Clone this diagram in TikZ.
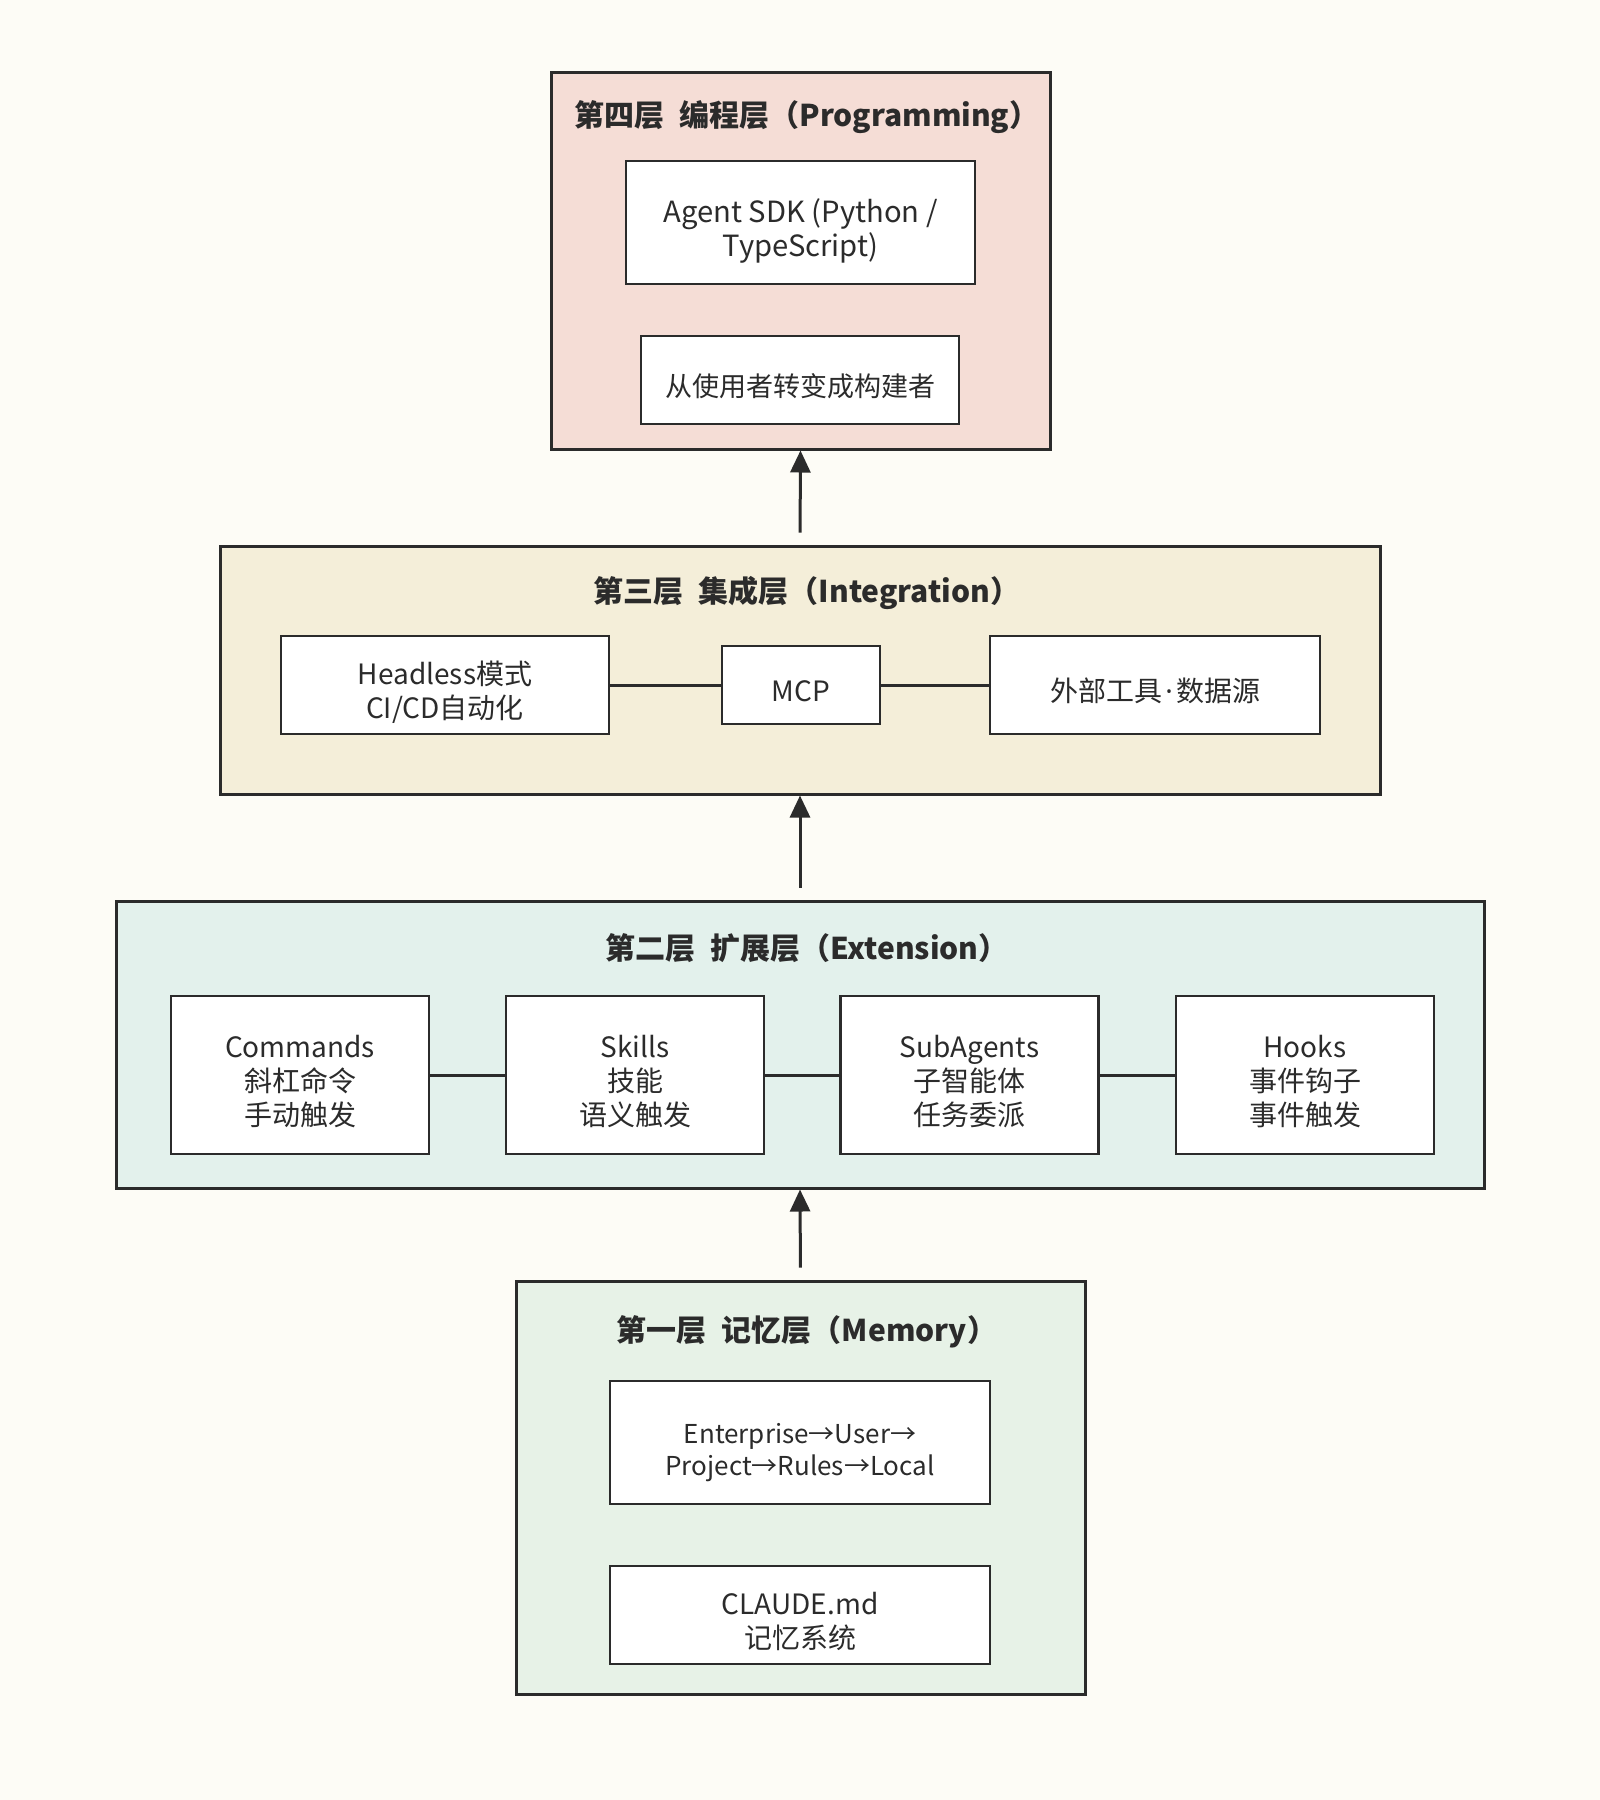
\documentclass[tikz,border=0pt]{standalone}
\usepackage{fontspec}
\setmainfont{Noto Sans CJK SC}
\newfontfamily\dotfont{Noto Sans}
\usepackage{tikz}
\usetikzlibrary{arrows.meta}

\definecolor{paper}{HTML}{FDFCF6}
\definecolor{ink}{HTML}{2B2B2B}
\definecolor{progfill}{HTML}{F5DDD6}
\definecolor{integfill}{HTML}{F4EED9}
\definecolor{extfill}{HTML}{E3F1EC}
\definecolor{memfill}{HTML}{E7F2E7}

% box text, set a little below the middle of its box
\newcommand{\boxlines}[1]{\begin{tabular}{@{}c@{}}\rule{0pt}{22pt}#1\end{tabular}}

\begin{document}
\begin{tikzpicture}
    [x = .5pt, y = -.5pt,
     layer/.style = {draw = ink, line width = 1.5pt, inner sep = 0pt},
     title/.style = {font = \fontsize{15pt}{18pt}\selectfont\bfseries, text = ink},
     item/.style = {draw = ink, line width = 1.4pt, fill = white,
                    inner sep = 0pt, text = ink,
                    font = \fontsize{14pt}{17pt}\selectfont},
     link/.style = {draw = ink, line width = 1.5pt},
     uparrow/.style = {draw = ink, line width = 1.5pt,
                       -{Triangle[length = 11pt, width = 10pt]}, shorten <= 6pt}]
    \fill[paper] (0,0) rectangle (1600,1800);
    \useasboundingbox (0,0) rectangle (1600,1800);

    % layer 4
    \node[layer, fill = progfill, minimum width = 249.5pt, minimum height = 188.5pt] (l4) at (800.5,260.5) {};
    \node[title] (t4) at (807,117) {第四层\hspace{.5em}编程层（Programming）};
    \node[item, font = \fontsize{14.6pt}{17pt}\selectfont, minimum width = 174.5pt, minimum height = 61.5pt] (sdk) at (800.5,222.5) {\boxlines{Agent SDK (Python /\\TypeScript)}};
    \node[item, font = \fontsize{13.5pt}{17pt}\selectfont, minimum width = 159pt, minimum height = 44pt] (builder) at (800,380) {\boxlines{从使用者转变成构建者}};

    % layer 3
    \node[layer, fill = integfill, minimum width = 580pt, minimum height = 124pt] (l3) at (800,670) {};
    \node[title] (t3) at (807,593) {第三层\hspace{.5em}集成层（Integration）};
    \node[item, minimum width = 164pt, minimum height = 49pt] (headless) at (445,685) {\boxlines{Headless模式\\CI/CD自动化}};
    \node[item, minimum width = 79pt, minimum height = 39pt] (mcp) at (801,685) {\boxlines{MCP}};
    \node[item, minimum width = 165pt, minimum height = 49pt] (tools) at (1155,685) {\boxlines{外部工具\makebox[.5em]{\dotfont ·}数据源}};

    % layer 2
    \node[layer, fill = extfill, minimum width = 684pt, minimum height = 143.5pt] (l2) at (800,1044.5) {};
    \node[title] (t2) at (807,948) {第二层\hspace{.5em}扩展层（Extension）};
    \node[item, minimum width = 129pt, minimum height = 79pt] (cmds) at (300,1075) {\boxlines{Commands\\斜杠命令\\手动触发}};
    \node[item, minimum width = 129pt, minimum height = 79pt] (skills) at (635,1075) {\boxlines{Skills\\技能\\语义触发}};
    \node[item, minimum width = 129pt, minimum height = 79pt] (subag) at (969.5,1075) {\boxlines{SubAgents\\子智能体\\任务委派}};
    \node[item, minimum width = 129pt, minimum height = 79pt] (hooks) at (1305,1075) {\boxlines{Hooks\\事件钩子\\事件触发}};

    % layer 1
    \node[layer, fill = memfill, minimum width = 284.5pt, minimum height = 206.5pt] (l1) at (800.5,1487.5) {};
    \node[title] (t1) at (807,1332) {第一层\hspace{.5em}记忆层（Memory）};
    \node[item, font = \fontsize{13pt}{16pt}\selectfont, minimum width = 190pt, minimum height = 61.5pt] (order) at (800,1442.5) {\boxlines{Enterprise→User→\\Project→Rules→Local}};
    \node[item, minimum width = 190pt, minimum height = 49pt] (claude) at (800,1615) {\boxlines{CLAUDE.md\\记忆系统}};

    \foreach \from/ \to in {headless/mcp, mcp/tools, cmds/skills, skills/subag, subag/hooks}
      \draw[link] (\from) -- (\to);

    \foreach \from/ \to in {l1/l2, l2/l3, l3/l4}
      \draw[uparrow] (\from.north) -- (\to.south);
  \end{tikzpicture}
\end{document}
